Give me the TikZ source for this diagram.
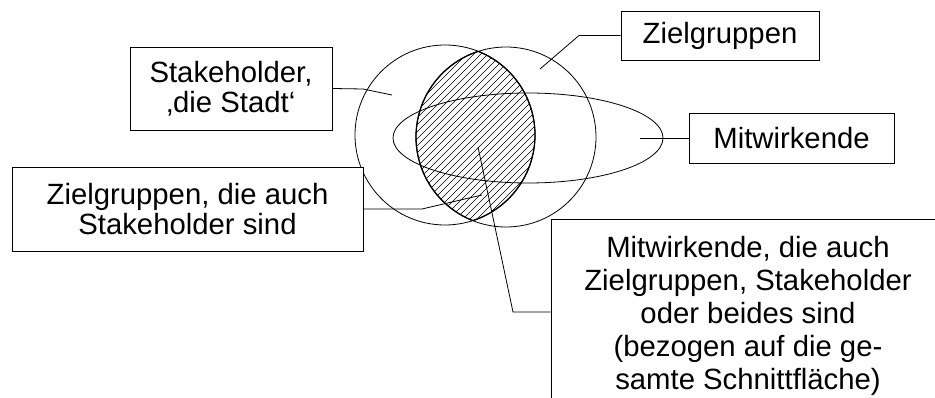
\documentclass[tikz,border=0pt]{standalone}
\usepackage{fontspec}
\setmainfont{Liberation Sans}
\usetikzlibrary{shapes.geometric}
\begin{document}
\begin{tikzpicture}[x=1pt,y=-1pt,
  lab/.style={draw, fill=white, line width=0.8pt, inner sep=0pt, align=center,
              font=\fontsize{29.3}{29.8}\selectfont},
  con/.style={line width=0.8pt},
  ring/.style={draw, circle, line width=0.8pt, minimum size=180pt, inner sep=0pt},
  oval/.style={draw, ellipse, line width=0.8pt, minimum width=270pt, minimum height=90pt, inner sep=0pt},
  hatch/.style={line width=0.55pt},
  lens/.style={line width=1.3pt}
]
\clip (0,0) rectangle (935,398);
\fill[white] (0,0) rectangle (935,398);

% hatched intersection
\begin{scope}
  \clip (445,135) circle[radius=90];
  \clip (506,137) circle[radius=90];
  \foreach \k in {500,507,...,740}
    \draw[hatch] (\k-30,30) -- (\k-250,250);
\end{scope}
\begin{scope}
  \clip (445,135) circle[radius=90];
  \draw[lens] (506,137) circle[radius=90];
\end{scope}
\begin{scope}
  \clip (506,137) circle[radius=90];
  \draw[lens] (445,135) circle[radius=90];
\end{scope}

% sets
\node[ring] (cL) at (445,135) {};
\node[ring] (cR) at (506,137) {};
\node[oval] (el) at (528,138) {};

% connector ends
\coordinate (a1) at (363,89);
\coordinate (a2) at (392,95);
\coordinate (b1) at (579,35.5);
\coordinate (b2) at (540,69);
\coordinate (c1) at (640,138);
\coordinate (d1) at (422,209);
\coordinate (d2) at (482,195);
\coordinate (e1) at (513,312);
\coordinate (e2) at (478,147);

% labels
\node[lab, minimum width=202pt, minimum height=83pt] (sh) at (231,88.5) {Stakeholder,\\‚die Stadt‘};
\node[lab, minimum width=198pt, minimum height=49pt] (zg) at (720,35.5) {Zielgruppen};
\node[lab, minimum width=205pt, minimum height=50pt] (mw) at (791.5,138) {Mitwirkende};
\node[lab, minimum width=351pt, minimum height=84pt] (zd) at (187.5,209) {Zielgruppen, die auch\\Stakeholder sind};
\node[lab, font=\fontsize{29.3}{33.2}\selectfont, minimum width=394pt, minimum height=194pt] (bb) at (748,316)
  {Mitwirkende, die auch\\Zielgruppen, Stakeholder\\oder beides sind\\(bezogen auf die ge-\\samte Schnittfläche)};

% connectors
\draw[con] (sh.east) -- (a1) -- (a2);
\draw[con] (zg.west) -- (b1) -- (b2);
\draw[con] (mw.west) -- (c1);
\draw[con] (zd.east) -- (d1) -- (d2);
\draw[con] (bb.north west |- e1) -- (e1) -- (e2);
\end{tikzpicture}
\end{document}
